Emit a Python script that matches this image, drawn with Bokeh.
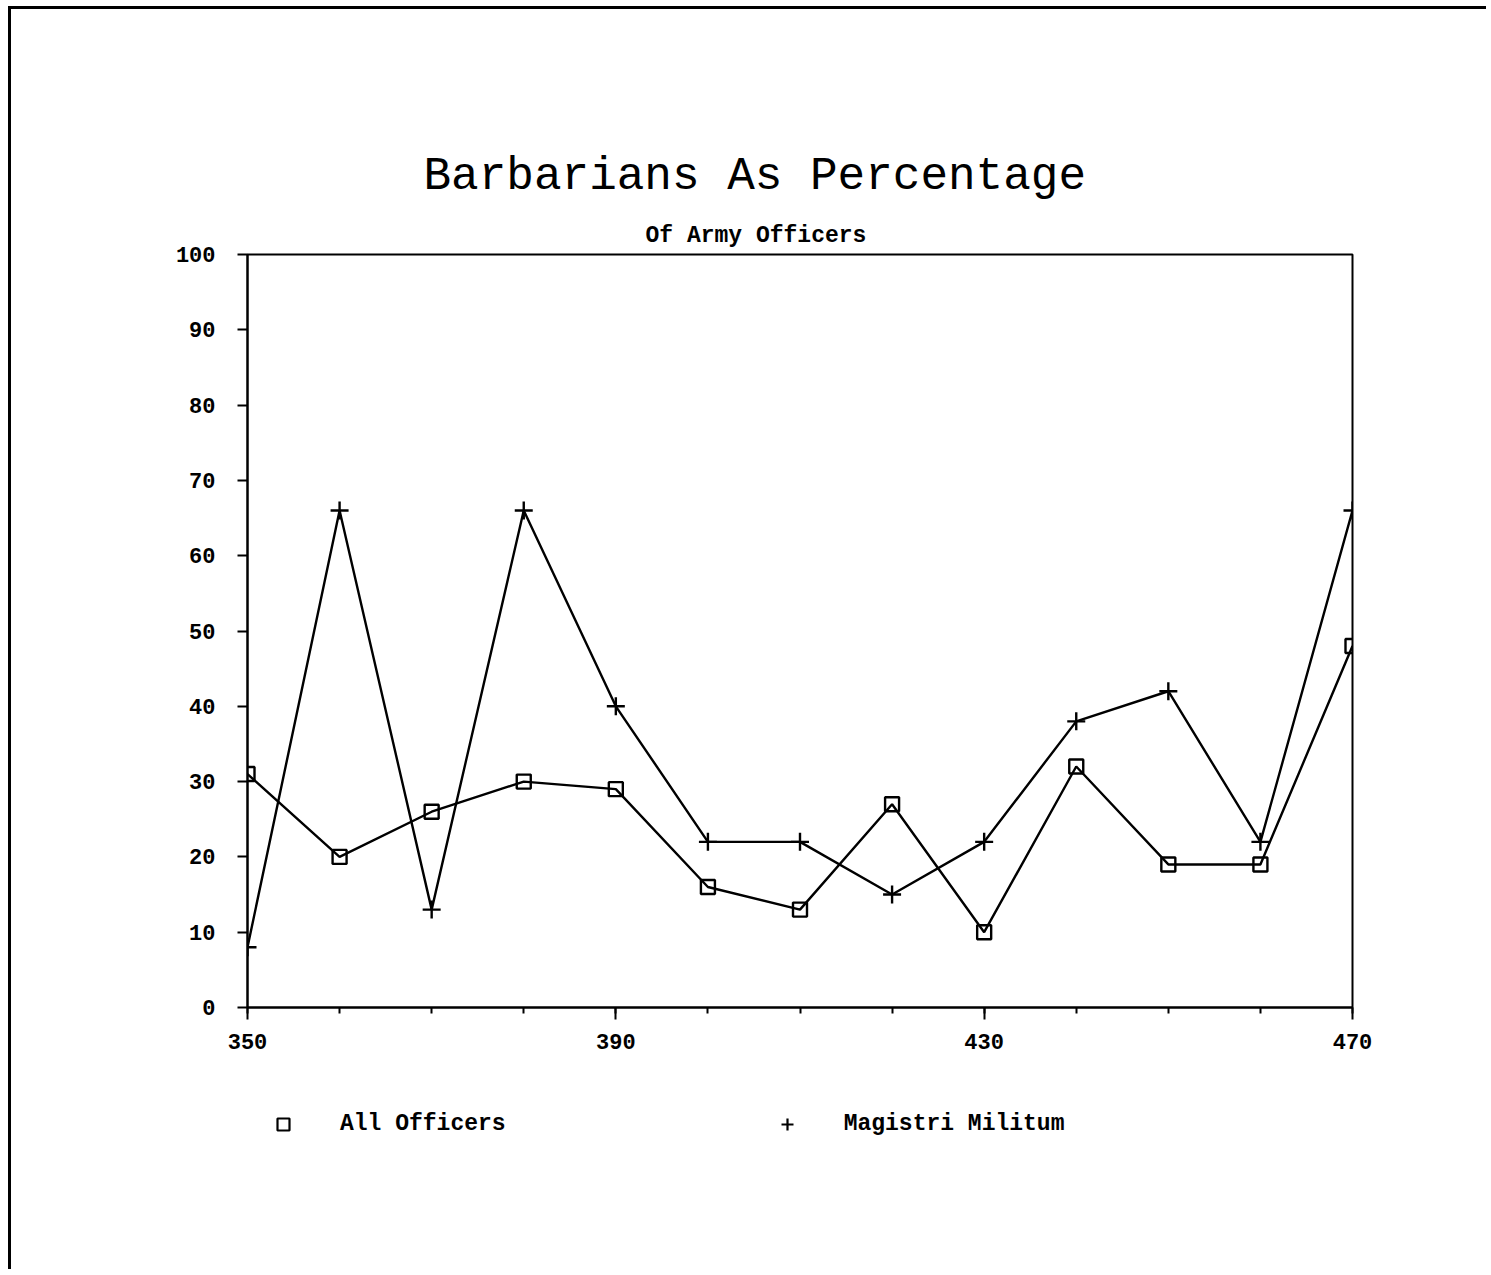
from bokeh.plotting import figure
from bokeh.models import Range1d, FixedTicker, Title, Legend, LegendItem
from bokeh.layouts import column
from bokeh.embed import file_html
from bokeh.resources import INLINE

# ---- data ----
years = [350, 360, 370, 380, 390, 400, 410, 420, 430, 440, 450, 460, 470]
all_officers = [31, 20, 26, 30, 29, 16, 13, 27, 10, 32, 19, 19, 48]
magistri_militum = [8, 66, 13, 66, 40, 22, 22, 15, 22, 38, 42, 22, 66]
x_major_ticks = [350, 390, 430, 470]
x_minor_ticks = list(range(350, 471, 10))
y_ticks = list(range(0, 101, 10))
title_text = "Barbarians As Percentage"
subtitle_text = "Of Army Officers"
series_names = ["All Officers", "Magistri Militum"]

FONT = "Liberation Mono"

W = 1475
H1, H2 = 1058, 202
p = figure(width=W, height=H1, output_backend="svg", toolbar_location=None,
           title=None,
           x_range=Range1d(350, 470), y_range=Range1d(0, 100),
           min_border_left=236, min_border_right=134,
           min_border_top=245, min_border_bottom=60)
p.grid.visible = False
p.outline_line_color = "black"
p.outline_line_width = 2
p.background_fill_color = "white"
p.border_fill_color = "white"

for ax in (p.xaxis[0], p.yaxis[0]):
    ax.axis_line_color = "black"
    ax.axis_line_width = 2
    ax.major_tick_line_color = "black"
    ax.major_tick_line_width = 2
    ax.minor_tick_line_color = "black"
    ax.minor_tick_line_width = 2
    ax.major_tick_in = 0
    ax.minor_tick_in = 0
    ax.major_label_text_font = FONT
    ax.major_label_text_font_style = "bold"
    ax.major_label_text_font_size = "22px"
    ax.major_label_text_color = "black"

p.xaxis[0].ticker = FixedTicker(ticks=x_major_ticks, minor_ticks=x_minor_ticks)
p.xaxis[0].major_tick_out = 12
p.xaxis[0].minor_tick_out = 6
p.xaxis[0].major_label_standoff = 14

p.yaxis[0].ticker = FixedTicker(ticks=y_ticks, minor_ticks=[])
p.yaxis[0].major_tick_out = 10
p.yaxis[0].minor_tick_out = 0
p.yaxis[0].major_label_standoff = 22

# lines and markers
p.line(years, all_officers, line_color="black", line_width=2.4)
p.line(years, magistri_militum, line_color="black", line_width=2.4)
p.scatter(years, all_officers, marker="square", size=14,
          fill_color=None, line_color="black", line_width=2.4)
p.scatter(years, magistri_militum, marker="cross", size=18,
          line_color="black", line_width=2.4)

# titles (subtitle closest to frame)
p.add_layout(Title(text=subtitle_text, align="left", offset=398, standoff=12,
                   text_font=FONT, text_font_style="bold",
                   text_font_size="23px", text_color="black"), "above")
p.add_layout(Title(text=title_text, align="left", offset=176, standoff=24,
                   text_font=FONT, text_font_style="normal",
                   text_font_size="46px", text_color="black"), "above")

# legend strip (a second figure whose ranges keep the series markers out of view)
p2 = figure(width=W, height=H2, output_backend="svg", toolbar_location=None,
            title=None, x_axis_type=None, y_axis_type=None,
            x_range=Range1d(0, 1), y_range=Range1d(-1000, -999),
            min_border_left=0, min_border_right=0,
            min_border_top=0, min_border_bottom=0)
p2.grid.visible = False
p2.outline_line_color = None
p2.background_fill_color = "white"
p2.border_fill_color = "white"
l_sq = p2.scatter(years, all_officers, marker="square", size=14,
                  fill_color=None, line_color="black", line_width=2.2)
l_pl = p2.scatter(years, magistri_militum, marker="cross", size=18,
                  line_color="black", line_width=2.2)
legend = Legend(items=[LegendItem(label=series_names[0], renderers=[l_sq]),
                       LegendItem(label=series_names[1], renderers=[l_pl])],
                orientation="horizontal", location=(21, 130),
                border_line_color=None, background_fill_alpha=0,
                padding=0, margin=0, glyph_width=30, glyph_height=30,
                label_standoff=42, spacing=266,
                label_text_font=FONT, label_text_font_style="bold",
                label_text_font_size="23px", label_text_color="black")
p2.add_layout(legend, "center")

page = column(p, p2, spacing=0)
page.styles = {"border-top": "3px solid black", "border-left": "3px solid black",
               "margin-left": "8px", "margin-top": "6px"}

open("out.html", "w").write(file_html(page, INLINE))
